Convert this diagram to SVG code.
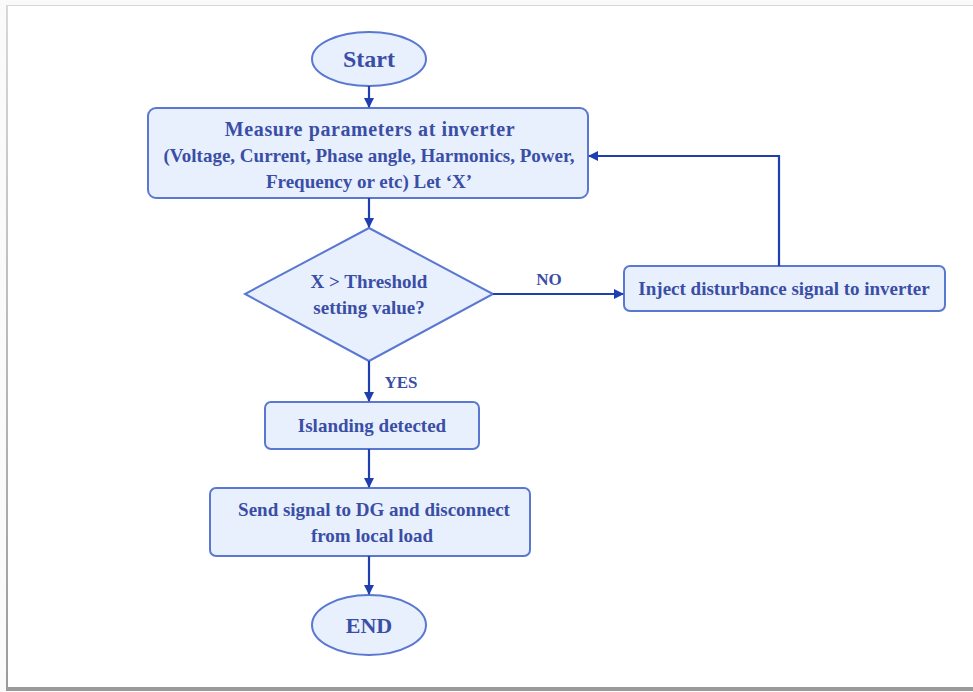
<svg xmlns="http://www.w3.org/2000/svg" width="973" height="692" viewBox="0 0 973 692">
<defs>
<marker id="ah" markerWidth="10" markerHeight="10" refX="9" refY="5" orient="auto" markerUnits="userSpaceOnUse" viewBox="0 0 10 10">
<path d="M0,0 L10,5 L0,10 z" fill="#1f3fb0"/>
</marker>
<linearGradient id="sh" x1="0" y1="0" x2="0" y2="1">
<stop offset="0" stop-color="#d8d8d8"/>
<stop offset="1" stop-color="#9a9a9a"/>
</linearGradient>
</defs>
<style>
.n{fill:#e8f0fd;stroke:#5a78d2;stroke-width:2}
.t{font-family:"Liberation Serif","Times New Roman",serif;font-size:19px;font-weight:bold;fill:#3a4ea6;text-anchor:middle}
.c{fill:none;stroke:#1f3fb0;stroke-width:2.2}
</style>
<rect x="0" y="0" width="973" height="692" fill="#fafafa"/>
<rect x="6" y="5" width="967" height="686" fill="url(#sh)"/>
<rect x="8" y="6" width="965" height="681" fill="#ffffff"/>
<g id="start">
<ellipse class="n" cx="369" cy="59" rx="57" ry="27"/>
<text class="t" x="369" y="67" style="font-size:24px">Start</text>
</g>
<g id="measure">
<rect class="n" x="148" y="108" width="440" height="90" rx="8"/>
<text class="t" x="370" y="136" style="font-size:20px;letter-spacing:0.6px">Measure parameters at inverter</text>
<text class="t" x="369" y="162">(Voltage, Current, Phase angle, Harmonics, Power,</text>
<text class="t" x="369" y="188">Frequency or etc) Let ‘X’</text>
</g>
<g id="decision">
<polygon class="n" points="369,228 493,294 369,361 245,294"/>
<text class="t" x="369" y="288">X &gt; Threshold</text>
<text class="t" x="369" y="314">setting value?</text>
</g>
<g id="inject">
<rect class="n" x="624" y="266" width="321" height="45" rx="6"/>
<text class="t" x="784" y="295">Inject disturbance signal to inverter</text>
</g>
<g id="islanding">
<rect class="n" x="265" y="402" width="214" height="47" rx="6"/>
<text class="t" x="372" y="432">Islanding detected</text>
</g>
<g id="send">
<rect class="n" x="210" y="488" width="320" height="68" rx="6"/>
<text class="t" x="374" y="516">Send signal to DG and disconnect</text>
<text class="t" x="372" y="542">from local load</text>
</g>
<g id="end">
<ellipse class="n" cx="369" cy="625" rx="57" ry="30"/>
<text class="t" x="369" y="633" style="font-size:22px">END</text>
</g>
<g id="connectors">
<line class="c" x1="369" y1="86" x2="369" y2="107" marker-end="url(#ah)"/>
<line class="c" x1="369" y1="198" x2="369" y2="227" marker-end="url(#ah)"/>
<line class="c" x1="493" y1="294" x2="623" y2="294" marker-end="url(#ah)"/>
<polyline class="c" points="779,266 779,156 589,156" marker-end="url(#ah)"/>
<line class="c" x1="369" y1="361" x2="369" y2="401" marker-end="url(#ah)"/>
<line class="c" x1="369" y1="449" x2="369" y2="487" marker-end="url(#ah)"/>
<line class="c" x1="369" y1="556" x2="369" y2="594" marker-end="url(#ah)"/>
<text class="t" x="549" y="285" style="font-size:17px">NO</text>
<text class="t" x="401" y="388" style="font-size:17px">YES</text>
</g>
</svg>
